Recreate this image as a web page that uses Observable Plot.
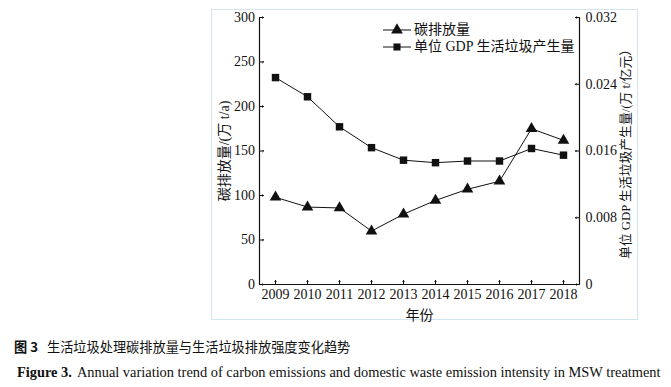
<!DOCTYPE html>
<html>
<head>
<meta charset="utf-8">
<script src="https://cdn.jsdelivr.net/npm/d3@7"></script>
<script src="https://cdn.jsdelivr.net/npm/@observablehq/plot@0.6"></script>
<style>
  html, body { margin: 0; padding: 0; background: #fff; }
  #wrap { position: relative; width: 671px; height: 387px; overflow: hidden; }
  #frame { position: absolute; left: 211px; top: 9px; width: 427px; height: 311px; border: 1px solid #cfe6ec; box-sizing: border-box; }
  #chart { position: absolute; left: 0; top: 0; }
  #legend { position: absolute; left: 383px; top: 21px; font-family: "Liberation Serif", "Noto Sans CJK SC", serif; font-size: 14px; color: #111; line-height: 17px; }
  #legend .row { display: flex; align-items: center; height: 17px; white-space: nowrap; }
  #legend svg { margin-right: 3px; }
  .cap { position: absolute; white-space: nowrap; color: #111; }
  #cap1 { top: 337px; left: 14px; font-family: "Noto Sans CJK SC", sans-serif; font-size: 13.2px; }
  #cap1 b { margin-right: 9px; }
  #cap2 { top: 364px; left: 17px; font-family: "Liberation Serif", serif; font-size: 14.4px; }
  #cap2 b { margin-right: 5px; }
</style>
</head>
<body>
<div id="wrap">
  <div id="frame"></div>
  <div id="chart"></div>
  <div id="legend"></div>
  <div class="cap" id="cap1"><b>图 3</b>生活垃圾处理碳排放量与生活垃圾排放强度变化趋势</div>
  <div class="cap" id="cap2"><b>Figure 3.</b>Annual variation trend of carbon emissions and domestic waste emission intensity in MSW treatment</div>
</div>
<script>
// ---- data ----
const years = [2009, 2010, 2011, 2012, 2013, 2014, 2015, 2016, 2017, 2018];
const carbonEmission = [98, 87, 86, 60, 79, 94.5, 107, 116, 175, 162];          // 万 t/a
const wastePerGDP = [0.0248, 0.0225, 0.0189, 0.0164, 0.0149, 0.0146, 0.0148, 0.0148, 0.0163, 0.0155]; // 万 t/亿元
const leftTicks = [0, 50, 100, 150, 200, 250, 300];
const rightTicks = [0, 0.008, 0.016, 0.024, 0.032];
const leftMax = 300;
const rightMax = 0.032;
const seriesNames = ["碳排放量", "单位 GDP 生活垃圾产生量"];
const leftLabel = "碳排放量/(万 t/a)";
const rightLabel = "单位 GDP 生活垃圾产生量/(万 t/亿元）";
const xLabel = "年份";

const toLeft = v => v * leftMax / rightMax;
const carbonData = years.map((y, i) => ({year: y, value: carbonEmission[i]}));
const wasteData = years.map((y, i) => ({year: y, value: toLeft(wastePerGDP[i])}));
const rightTicksLeft = rightTicks.map(toLeft);

const ink = "#111";
const tickFont = "Liberation Serif, Times New Roman, Noto Sans CJK SC, serif";

const chart = Plot.plot({
  width: 671,
  height: 330,
  marginLeft: 259,
  marginRight: 92,
  marginTop: 17,
  marginBottom: 46,
  style: {fontFamily: tickFont, fontSize: "14px", color: ink, background: "transparent", overflow: "visible"},
  x: {domain: [2008.5, 2018.5]},
  y: {domain: [0, leftMax]},
  marks: [
    Plot.axisX(years, {tickSize: 0, tickPadding: 5, tickFormat: d => String(d), label: xLabel, labelArrow: "none", labelAnchor: "center", labelOffset: 35, fontSize: 14}),
    Plot.axisY(leftTicks, {anchor: "left", tickSize: 0, tickPadding: 4.5, label: leftLabel, labelArrow: "none", labelAnchor: "center", labelOffset: 40}),
    Plot.axisY(rightTicksLeft, {anchor: "right", tickSize: 0, tickPadding: 6, tickFormat: d => { const v = d * rightMax / leftMax; return v === 0 ? "0" : v.toFixed(3); }, label: null}),
    Plot.axisY([], {anchor: "right", tickSize: 0, label: rightLabel, labelArrow: "none", labelAnchor: "center", labelOffset: 50, fontSize: 12.8}),
    // inward ticks
    Plot.vector(years, {x: d => d, frameAnchor: "bottom", length: 4, rotate: 0, anchor: "start", stroke: ink, strokeWidth: 1}),
    Plot.vector(leftTicks, {y: d => d, frameAnchor: "left", length: 4, rotate: 90, anchor: "start", stroke: ink, strokeWidth: 1}),
    Plot.vector(rightTicksLeft, {y: d => d, frameAnchor: "right", length: 4, rotate: -90, anchor: "start", stroke: ink, strokeWidth: 1}),
    Plot.ruleX([2008.5, 2018.5], {stroke: ink, strokeWidth: 1.2}),
    Plot.ruleY([0], {stroke: ink, strokeWidth: 1.2}),
    Plot.line(wasteData, {x: "year", y: "value", stroke: ink, strokeWidth: 1}),
    Plot.line(carbonData, {x: "year", y: "value", stroke: ink, strokeWidth: 1}),
    Plot.dot(wasteData, {x: "year", y: "value", symbol: "square", r: 4.2, fill: ink, stroke: "none"}),
    Plot.dot(carbonData, {x: "year", y: "value", symbol: "triangle", r: 4.3, fill: ink, stroke: "none"})
  ]
});
document.getElementById("chart").appendChild(chart);

// legend
const legend = document.getElementById("legend");
const symbols = ["triangle", "square"];
seriesNames.forEach((name, i) => {
  const row = document.createElement("div");
  row.className = "row";
  const sym = symbols[i] === "triangle" ? d3.symbolTriangle : d3.symbolSquare;
  const size = symbols[i] === "triangle" ? 60 : 50;
  row.innerHTML = `<svg width="28" height="17"><line x1="0" x2="28" y1="9" y2="9" stroke="${ink}" stroke-width="1"/><path transform="translate(14,9)" d="${d3.symbol(sym, size)()}" fill="${ink}"/></svg><span>${name}</span>`;
  legend.appendChild(row);
});
</script>
</body>
</html>
